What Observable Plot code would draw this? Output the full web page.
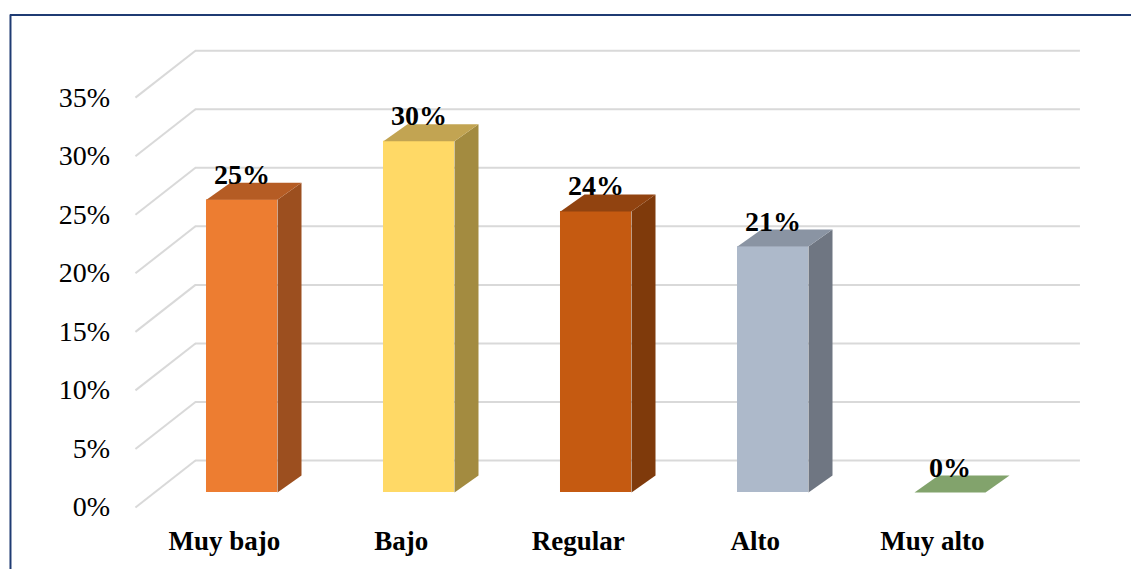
<!DOCTYPE html>
<html>
<head>
<meta charset="utf-8">
<script src="https://cdn.jsdelivr.net/npm/d3@7"></script>
<script src="https://cdn.jsdelivr.net/npm/@observablehq/plot@0.6"></script>
</head>
<body style="margin:0">
<div id="chart"></div>
<script>
// Levels and their share of respondents (%)
const categories = ["Muy bajo", "Bajo", "Regular", "Alto", "Muy alto"];
const values = [25, 30, 24, 21, 0];
const frontColors = ["#ED7D31", "#FFD966", "#C55A11", "#ADB9CA", "#A9D18E"];
const sideColors = ["#9C4F1F", "#A38B40", "#7F3A0B", "#6F7682", "#6E8A5B"];
const topColors = ["#B55C24", "#C2A452", "#914310", "#8A94A3", "#82A36C"];
const yTicks = [0, 5, 10, 15, 20, 25, 30, 35];

// Geometry of the pseudo-3D box (x in category units, y in percent)
const half = 0.2006;      // half bar width
const depthX = 0.1356;    // depth offset to the right
const depthY = 1.45;      // depth offset upward
const wallY = 2.73;       // back wall lift
const wallX0 = -0.263, wallX1 = 4.737;
const frontX = -0.602, frontDrop = 4.01;
const labelX = -0.745;
const frameX = -1.308, frameY = 40.78;   // outer chart-area border (left and top edges)

const bars = categories.map((c, i) => ({c, i, v: values[i]}));

// Polygons for the side and top faces of each bar
const faces = [];
bars.forEach(b => {
  const x0 = b.i - half, x1 = b.i + half;
  if (b.v > 0) {
    [[x1, 0], [x1, b.v], [x1 + depthX, b.v + depthY], [x1 + depthX, depthY]]
      .forEach(([x, y]) => faces.push({id: "s" + b.i, x, y, color: sideColors[b.i]}));
  }
  [[x0, b.v], [x1, b.v], [x1 + depthX, b.v + depthY], [x0 + depthX, b.v + depthY]]
    .forEach(([x, y]) => faces.push({id: "t" + b.i, x, y, color: topColors[b.i]}));
});

// Back wall grid and the slanted floor/side lines
const gridBack = yTicks.map(t => ({x1: wallX0, x2: wallX1, y: t + wallY}));
const gridSide = yTicks.map(t => ({x1: frontX, y1: t + wallY - frontDrop, x2: wallX0, y2: t + wallY}));

const plot = Plot.plot({
  width: 1131,
  height: 569,
  margin: 0,
  x: {type: "linear", domain: [0, 4], range: [241.5, 949.5], axis: null},
  y: {type: "linear", domain: [0, 35], range: [492, 82.15], axis: null},
  color: {type: "identity"},
  marks: [
    Plot.ruleX([frameX], {y1: -10, y2: frameY, stroke: "#1F3B73", strokeWidth: 2}),
    Plot.ruleY([frameY], {x1: frameX, x2: 6, stroke: "#1F3B73", strokeWidth: 2}),
    Plot.ruleY(gridBack, {x1: "x1", x2: "x2", y: "y", stroke: "#D9D9D9", strokeWidth: 2}),
    Plot.link(gridSide, {x1: "x1", y1: "y1", x2: "x2", y2: "y2", stroke: "#D9D9D9", strokeWidth: 2}),
    Plot.text(yTicks, {
      x: () => labelX, y: t => t + wallY - frontDrop, text: t => t + "%",
      textAnchor: "end", fontSize: 28, fontFamily: "Liberation Serif", fill: "black"
    }),
    Plot.rectY(bars, {
      x1: d => d.i - half, x2: d => d.i + half, y1: 0, y2: "v",
      fill: d => frontColors[d.i]
    }),
    Plot.line(faces, {x: "x", y: "y", z: "id", fill: "color", stroke: "none", curve: "linear-closed"}),
    Plot.text(bars, {
      x: "i", y: d => d.v + depthY, text: d => d.v + "%",
      lineAnchor: "bottom", dy: 1, fontSize: 28, fontWeight: "bold",
      fontFamily: "Liberation Serif", fill: "black"
    }),
    Plot.text(bars, {
      x: d => d.i - 0.1, y: () => -4.2, text: "c",
      fontSize: 27, fontWeight: "bold", fontFamily: "Liberation Serif", fill: "black"
    })
  ]
});
document.getElementById("chart").appendChild(plot);
</script>
</body>
</html>
